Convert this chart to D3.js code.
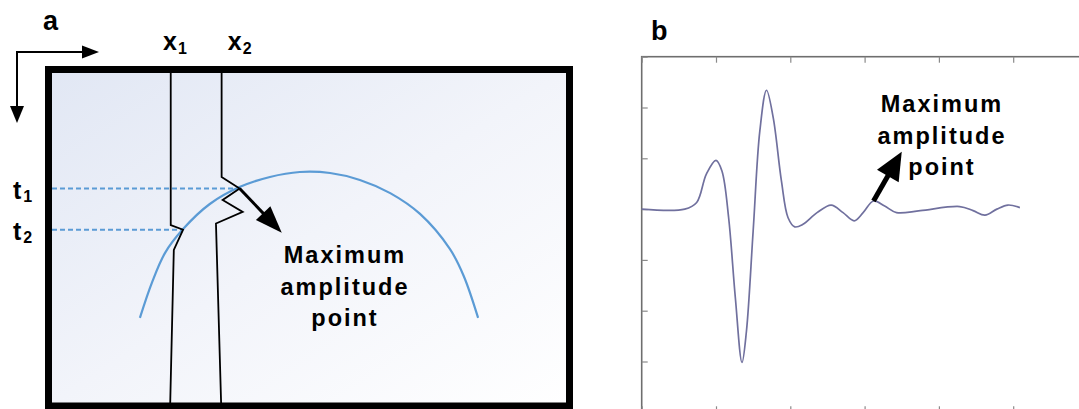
<!DOCTYPE html>
<html><head><meta charset="utf-8">
<script src="https://cdn.jsdelivr.net/npm/d3@7"></script>
<style>html,body{margin:0;padding:0;background:#fff;overflow:hidden}svg{display:block}</style>
</head><body><svg id="c" width="1079" height="409"></svg>
<script>
// ---------- Panel a data (trace position units 0-100, time units 0-100) ----------
const ARC_X = [17.1, 19.5, 22.0, 25.5, 30.7, 36.6, 42.4, 48.2, 54.1, 59.9, 65.8, 71.6, 77.4, 80.1, 82.9];
const ARC_T = [74.2, 63.3, 54.5, 47.3, 39.7, 34.5, 31.5, 30.0, 30.3, 32.4, 36.4, 42.7, 53.3, 61.5, 74.2];
const TRACE1_X = [23.1, 23.1, 25.5, 23.7, 23.0];
const TRACE1_T = [0, 46.1, 47.5, 53.6, 100];
const TRACE2_X = [33.0, 33.0, 36.5, 33.2, 37.1, 31.9, 32.9];
const TRACE2_T = [0, 31.5, 35.0, 38.5, 42.1, 45.6, 100];
const PICK_T = [35.0, 47.5];          // t1, t2
const PICK_X = [36.5, 25.5];          // where each dashed line meets the event
const PICK_LABELS = ["1", "2"];
const TRACE_LABELS = ["1", "2"];
const TRACE_LABEL_POS = [21.6, 34.2]; // label start, trace units
const ARROW_A = {from: [36.5, 35.0], to: [44.7, 48.4]};
const NOTE_LINES = ["Maximum", "amplitude", "point"];

// ---------- Panel b data (time units 0-6, amplitude) ----------
const SIG_T = [0, 0.58, 0.74, 0.87, 1.00, 1.08, 1.17, 1.26, 1.35, 1.41, 1.50, 1.59, 1.68, 1.77, 1.88, 1.97,
               2.06, 2.17, 2.36, 2.55, 2.71, 2.86, 2.98, 3.12, 3.27, 3.43, 3.75, 4.28, 4.46, 4.62, 4.78, 4.93, 5.09];
const SIG_A = [0, 0, 0.13, 0.69, 0.96, 0.75, -0.17, -1.74, -3.02, -2.40, -0.43, 1.54, 2.34, 1.80, 0.56, -0.17,
               -0.35, -0.30, -0.07, 0.08, -0.07, -0.23, -0.07, 0.16, 0.06, -0.07, -0.03, 0.05, -0.03, -0.12, 0, 0.08, 0.03];
const X_TICKS_B = [0, 1, 2, 3, 4, 5, 6];
const Y_TICKS_B = [-4, -3, -2, -1, 0, 1, 2, 3];
const ARROW_B = {from: [3.12, 0.16], to: [3.50, 1.13]};

const svg = d3.select("#c");
const FONT = "'Liberation Sans', Arial, Helvetica, sans-serif";

// ---------- defs ----------
const defs = svg.append("defs");
const g1 = defs.append("linearGradient").attr("id", "bgA")
  .attr("x1", 0).attr("y1", 0).attr("x2", 1).attr("y2", 1);
g1.append("stop").attr("offset", 0).attr("stop-color", "#e1e7f4");
g1.append("stop").attr("offset", 0.5).attr("stop-color", "#f2f4fa");
g1.append("stop").attr("offset", 1).attr("stop-color", "#ffffff");

function arrow(g, x0, y0, x1, y1, w, headLen, headW) {
  const dx = x1 - x0, dy = y1 - y0, L = Math.hypot(dx, dy);
  const ux = dx / L, uy = dy / L, px = -uy, py = ux;
  const bx = x1 - ux * headLen, by = y1 - uy * headLen;
  g.append("line").attr("x1", x0).attr("y1", y0)
    .attr("x2", bx + ux * 2).attr("y2", by + uy * 2)
    .attr("stroke", "#000").attr("stroke-width", w);
  g.append("path").attr("d",
    `M${x1},${y1}L${bx + px * headW / 2},${by + py * headW / 2}L${bx - px * headW / 2},${by - py * headW / 2}Z`)
    .attr("fill", "#000");
}

// ================= Panel a =================
const A = {left: 52, top: 73, right: 566, bottom: 403};
const xA = d3.scaleLinear().domain([0, 100]).range([A.left, A.right]);
const yA = d3.scaleLinear().domain([0, 100]).range([A.top, A.bottom]);
const ga = svg.append("g");

ga.append("rect").attr("x", 48.5).attr("y", 69.5).attr("width", 521).attr("height", 336.5)
  .attr("fill", "url(#bgA)");

// dashed pick lines
PICK_T.forEach((t, i) => {
  ga.append("line").attr("x1", xA(0)).attr("x2", xA(PICK_X[i]))
    .attr("y1", yA(t)).attr("y2", yA(t))
    .attr("stroke", "#5b9bd5").attr("stroke-width", 2).attr("stroke-dasharray", "5,3");
});

// event arc
const arcLine = d3.line().x(d => xA(d[0])).y(d => yA(d[1])).curve(d3.curveCatmullRom.alpha(0.5));
ga.append("path").datum(ARC_X.map((x, i) => [x, ARC_T[i]]))
  .attr("d", arcLine).attr("fill", "none").attr("stroke", "#5b9bd5").attr("stroke-width", 2.2);

// traces
const trLine = d3.line().x(d => xA(d[0])).y(d => yA(d[1]));
[[TRACE1_X, TRACE1_T], [TRACE2_X, TRACE2_T]].forEach(([xs, ts]) => {
  ga.append("path").datum(xs.map((x, i) => [x, ts[i]]))
    .attr("d", trLine).attr("fill", "none").attr("stroke", "#000").attr("stroke-width", 1.8)
    .attr("stroke-linejoin", "miter");
});

// arrow to maximum amplitude point
arrow(ga, xA(ARROW_A.from[0]), yA(ARROW_A.from[1]), xA(ARROW_A.to[0]), yA(ARROW_A.to[1]), 3, 27, 20);

// frame border
ga.append("rect").attr("x", 48.5).attr("y", 69.5).attr("width", 521).attr("height", 336.5)
  .attr("fill", "none").attr("stroke", "#000").attr("stroke-width", 7);

// note text
NOTE_LINES.forEach((s, i) => {
  ga.append("text").attr("x", 345).attr("y", 263 + i * 31.5).attr("text-anchor", "middle")
    .attr("font-family", FONT).attr("font-weight", "bold").attr("font-size", 23.5)
    .attr("letter-spacing", 2).text(s);
});

// trace labels x1, x2
TRACE_LABEL_POS.forEach((x, i) => {
  const t = ga.append("text").attr("x", xA(x)).attr("y", 50)
    .attr("font-family", FONT).attr("font-weight", "bold").attr("font-size", 25).attr("fill", "#000");
  t.append("tspan").text("x");
  t.append("tspan").attr("font-size", 16).attr("dx", 1).attr("dy", 4).text(TRACE_LABELS[i]);
});

// time labels t1, t2
PICK_T.forEach((tv, i) => {
  const t = ga.append("text").attr("x", 13).attr("y", yA(tv) + 10)
    .attr("font-family", FONT).attr("font-weight", "bold").attr("font-size", 25).attr("fill", "#000");
  t.append("tspan").text("t");
  t.append("tspan").attr("font-size", 16).attr("dx", 2).attr("dy", 3).text(PICK_LABELS[i]);
});

// orientation arrows
arrow(ga, 17, 52, 99, 52, 2, 17, 13);
arrow(ga, 17, 51, 17, 123, 2, 17, 14);

// panel label
ga.append("text").attr("x", 43).attr("y", 30).attr("font-family", FONT)
  .attr("font-weight", "bold").attr("font-size", 27).text("a");

// ================= Panel b =================
const B = {left: 641.7, top: 56.7, right: 1087.5, bottom: 412.3};
const xB = d3.scaleLinear().domain([0, 6]).range([B.left, B.right]);
const yB = d3.scaleLinear().domain([-4, 3]).range([B.bottom, B.top]);
const gb = svg.append("g");

gb.append("rect").attr("x", B.left).attr("y", B.top)
  .attr("width", B.right - B.left).attr("height", B.bottom - B.top)
  .attr("fill", "#fff").attr("stroke", "#6e6e6e").attr("stroke-width", 1.6);

const tl = 6;
function styleAxis(g) {
  g.select(".domain").remove();
  g.selectAll(".tick line").attr("stroke", "#8a8a8a").attr("stroke-width", 1.2);
}
gb.append("g").attr("transform", `translate(0,${B.top})`)
  .call(d3.axisTop(xB).tickValues(X_TICKS_B).tickSize(-tl).tickFormat("")).call(styleAxis);
gb.append("g").attr("transform", `translate(0,${B.bottom})`)
  .call(d3.axisBottom(xB).tickValues(X_TICKS_B).tickSize(-tl).tickFormat("")).call(styleAxis);
gb.append("g").attr("transform", `translate(${B.left},0)`)
  .call(d3.axisLeft(yB).tickValues(Y_TICKS_B).tickSize(-tl).tickFormat("")).call(styleAxis);
gb.append("g").attr("transform", `translate(${B.right},0)`)
  .call(d3.axisRight(yB).tickValues(Y_TICKS_B).tickSize(-tl).tickFormat("")).call(styleAxis);

const sigLine = d3.line().x(d => xB(d[0])).y(d => yB(d[1])).curve(d3.curveCatmullRom.alpha(0.5));
gb.append("path").datum(SIG_T.map((t, i) => [t, SIG_A[i]]))
  .attr("d", sigLine).attr("fill", "none").attr("stroke", "#70709e").attr("stroke-width", 1.7);

arrow(gb, xB(ARROW_B.from[0]), yB(ARROW_B.from[1]), xB(ARROW_B.to[0]), yB(ARROW_B.to[1]), 5, 28, 25);

NOTE_LINES.forEach((s, i) => {
  gb.append("text").attr("x", 942).attr("y", 112 + i * 31.5).attr("text-anchor", "middle")
    .attr("font-family", FONT).attr("font-weight", "bold").attr("font-size", 23.5)
    .attr("letter-spacing", 2).text(s);
});

gb.append("text").attr("x", 651).attr("y", 40).attr("font-family", FONT)
  .attr("font-weight", "bold").attr("font-size", 27).text("b");
</script></body></html>
